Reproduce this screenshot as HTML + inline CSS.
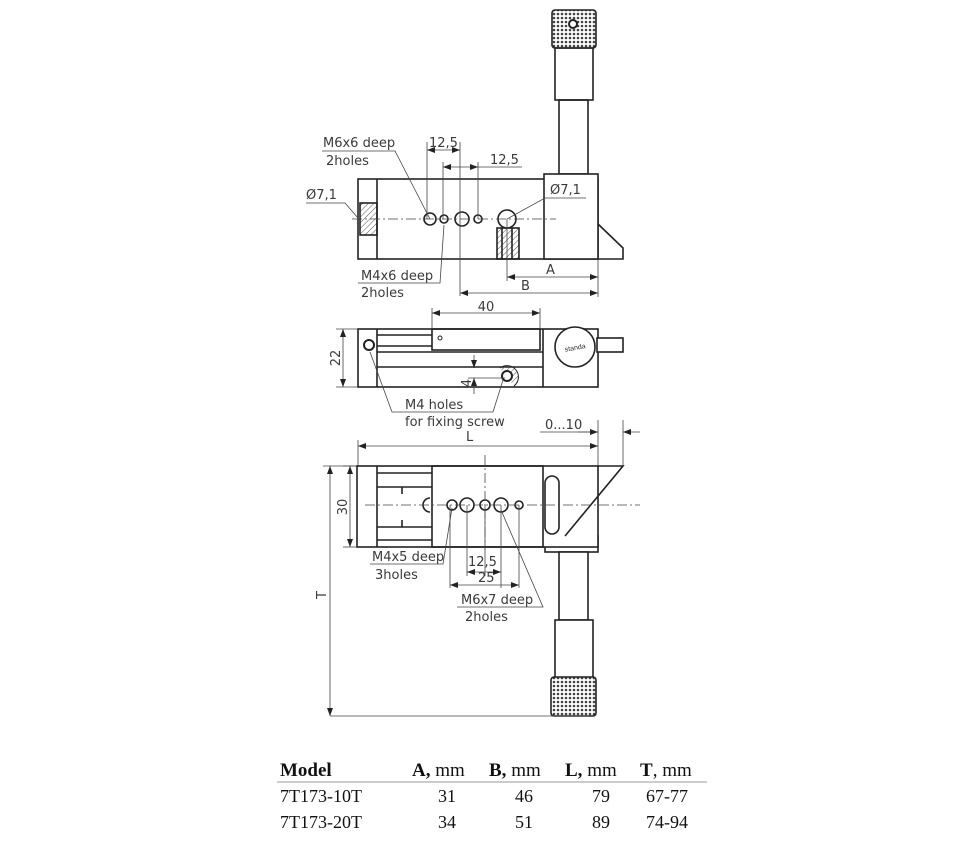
<!DOCTYPE html>
<html><head><meta charset="utf-8"><style>
html,body{margin:0;padding:0;background:#fff;}
svg{display:block;}
.t{font-family:"DejaVu Sans","Liberation Sans",sans-serif;font-size:13px;fill:#3a3a3a;}
.tb{font-family:"Liberation Serif",serif;font-size:19px;fill:#111;}
</style></head><body>
<svg width="960" height="841" viewBox="0 0 960 841" xmlns="http://www.w3.org/2000/svg">
<defs>
<pattern id="kn" width="4" height="4" patternUnits="userSpaceOnUse"><rect width="4" height="4" fill="#fff"/><circle cx="2" cy="2" r="1.3" fill="#444"/></pattern>
<pattern id="ht" width="4" height="4" patternUnits="userSpaceOnUse" patternTransform="rotate(45)"><line x1="0" y1="0" x2="0" y2="4" stroke="#555" stroke-width="1"/></pattern>
<marker id="ar" markerWidth="8" markerHeight="6" refX="8" refY="3" orient="auto-start-reverse" markerUnits="userSpaceOnUse"><path d="M0,0 L8,3 L0,6z" fill="#222"/></marker>
</defs>
<g fill="none" stroke="#222" stroke-width="1.6">
<rect x="552" y="10" width="44" height="38" rx="3" fill="url(#kn)"/>
<circle cx="573" cy="24" r="4" fill="#fff" stroke-width="2"/>
<rect x="555" y="48" width="38" height="52"/>
<rect x="559" y="100" width="29" height="74"/>
<rect x="358" y="179" width="240" height="80" fill="#fff"/>
<line x1="377" y1="179" x2="377" y2="259"/>
<rect x="544" y="174" width="54" height="85" fill="#fff"/>
<path d="M598,224 L623,248 L623,259 L598,259"/>
<rect x="497" y="228" width="22" height="31" fill="url(#ht)"/>
<line x1="502" y1="228" x2="502" y2="259"/><line x1="512" y1="228" x2="512" y2="259"/>
<rect x="360" y="203" width="17" height="32" fill="url(#ht)"/>
<circle cx="430" cy="219" r="6" fill="#fff"/>
<circle cx="444" cy="219" r="4" fill="#fff"/>
<circle cx="462" cy="219" r="7" fill="#fff"/>
<circle cx="478" cy="219" r="4" fill="#fff"/>
<circle cx="507" cy="219" r="9" fill="#fff"/>
</g>
<g fill="none" stroke="#444" stroke-width="0.8">
<line x1="352" y1="219" x2="556" y2="219" stroke-dasharray="10,3,2,3"/>
<line x1="427" y1="142" x2="427" y2="219"/><line x1="460" y1="142" x2="460" y2="296"/>
<line x1="443" y1="162" x2="443" y2="219"/><line x1="478" y1="162" x2="478" y2="219"/>
<line x1="427" y1="150" x2="460" y2="150" marker-start="url(#ar)" marker-end="url(#ar)"/>
<line x1="443" y1="167" x2="478" y2="167" marker-start="url(#ar)" marker-end="url(#ar)"/>
<line x1="478" y1="167" x2="522" y2="167"/>
<line x1="507" y1="219" x2="507" y2="281"/><line x1="598" y1="259" x2="598" y2="297"/>
<line x1="507" y1="277" x2="598" y2="277" marker-start="url(#ar)" marker-end="url(#ar)"/>
<line x1="460" y1="293" x2="598" y2="293" marker-start="url(#ar)" marker-end="url(#ar)"/>
<polyline points="322,151 395,151 430,219"/>
<polyline points="358,283 440,283 444,225"/>
<polyline points="306,203 345,203 358,218"/>
<polyline points="586,198 545,198 507,219"/>
</g>
<g class="t">
<text x="323" y="147">M6x6 deep</text><text x="326" y="165">2holes</text>
<text x="429" y="147">12,5</text><text x="490" y="164">12,5</text>
<text x="306" y="199">Ø7,1</text><text x="550" y="194">Ø7,1</text>
<text x="361" y="280">M4x6 deep</text><text x="361" y="297">2holes</text>
<text x="546" y="274">A</text><text x="521" y="290">B</text>
</g>
<g fill="none" stroke="#222" stroke-width="1.6">
<rect x="358" y="329" width="240" height="58" fill="#fff"/>
<line x1="377" y1="329" x2="377" y2="387"/>
<line x1="543" y1="329" x2="543" y2="387"/>
<rect x="432" y="329" width="108" height="21"/>
<line x1="377" y1="335" x2="432" y2="335"/><line x1="377" y1="346" x2="432" y2="346"/>
<line x1="377" y1="352" x2="543" y2="352"/><line x1="377" y1="367" x2="543" y2="367"/>
<rect x="597" y="338" width="26" height="14" fill="#fff"/>
<circle cx="575" cy="347" r="20" fill="#fff"/>
<circle cx="369" cy="345" r="5" fill="#fff" stroke-width="2"/>
<path d="M500,368 a10,10 0 0 1 14,18" fill="url(#ht)" stroke-width="1"/>
<circle cx="507" cy="376" r="5" fill="#fff" stroke-width="2"/>
</g>
<circle cx="440" cy="338" r="2" fill="none" stroke="#222"/>
<text x="575" y="350" font-family="Liberation Sans,sans-serif" font-size="7" text-anchor="middle" fill="#333" transform="rotate(-10 575 347)">standa</text>
<g fill="none" stroke="#444" stroke-width="0.8">
<line x1="432" y1="308" x2="432" y2="329"/><line x1="540" y1="308" x2="540" y2="329"/>
<line x1="432" y1="313" x2="540" y2="313" marker-start="url(#ar)" marker-end="url(#ar)"/>
<line x1="336" y1="329" x2="358" y2="329"/><line x1="336" y1="387" x2="358" y2="387"/>
<line x1="343" y1="329" x2="343" y2="387" marker-start="url(#ar)" marker-end="url(#ar)"/>
<line x1="474" y1="355" x2="474" y2="368" marker-end="url(#ar)"/>
<line x1="474" y1="394" x2="474" y2="378" marker-end="url(#ar)"/>
<line x1="468" y1="378" x2="505" y2="378"/>
<polyline points="370,352 392,412 493,412 503,380"/>
<line x1="598" y1="420" x2="598" y2="466"/><line x1="623" y1="420" x2="623" y2="466"/>
<line x1="358" y1="440" x2="358" y2="466"/>
<line x1="540" y1="432" x2="598" y2="432"/>
<line x1="578" y1="432" x2="598" y2="432" marker-end="url(#ar)"/>
<line x1="640" y1="432" x2="623" y2="432" marker-end="url(#ar)"/>
<line x1="358" y1="446" x2="598" y2="446" marker-start="url(#ar)" marker-end="url(#ar)"/>
</g>
<g class="t">
<text x="486" y="311" text-anchor="middle">40</text>
<text transform="translate(340,358) rotate(-90)" text-anchor="middle">22</text>
<text transform="translate(471,383) rotate(-90)" text-anchor="middle">4</text>
<text x="405" y="409">M4 holes</text><text x="405" y="426">for fixing screw</text>
<text x="545" y="429">0...10</text><text x="466" y="441">L</text>
</g>
<g fill="none" stroke="#222" stroke-width="1.6">
<rect x="545" y="536" width="53" height="16" fill="#fff"/>
<rect x="559" y="552" width="29" height="68" fill="#fff"/>
<rect x="555" y="620" width="38" height="58" fill="#fff"/>
<rect x="551" y="677" width="45" height="39" rx="3" fill="url(#kn)"/>
<rect x="357" y="466" width="241" height="81" fill="#fff"/>
<line x1="377" y1="466" x2="377" y2="547"/>
<rect x="432" y="466" width="111" height="81"/>
<line x1="377" y1="473" x2="432" y2="473"/><line x1="377" y1="487" x2="432" y2="487"/>
<line x1="377" y1="527" x2="432" y2="527"/><line x1="377" y1="540" x2="432" y2="540"/>
<line x1="402" y1="487" x2="402" y2="494"/><line x1="402" y1="520" x2="402" y2="527"/>
<path d="M598,466 L623,466 L565,536"/>
<rect x="545" y="476" width="14" height="58" rx="7"/>
<path d="M430,498 a7,7 0 0 0 0,14"/>
<circle cx="452" cy="505" r="5" fill="#fff"/>
<circle cx="467" cy="505" r="7" fill="#fff"/>
<circle cx="485" cy="505" r="5" fill="#fff"/>
<circle cx="501" cy="505" r="7" fill="#fff"/>
<circle cx="519" cy="505" r="4" fill="#fff"/>
</g>
<g fill="none" stroke="#444" stroke-width="0.8">
<line x1="365" y1="505" x2="640" y2="505" stroke-dasharray="10,3,2,3"/>
<line x1="485" y1="455" x2="485" y2="550" stroke-dasharray="10,3,2,3"/>
<line x1="343" y1="466" x2="357" y2="466"/><line x1="343" y1="547" x2="357" y2="547"/>
<line x1="350" y1="466" x2="350" y2="547" marker-start="url(#ar)" marker-end="url(#ar)"/>
<line x1="323" y1="466" x2="357" y2="466"/>
<line x1="330" y1="466" x2="330" y2="716" marker-start="url(#ar)" marker-end="url(#ar)"/>
<line x1="330" y1="716" x2="590" y2="716"/>
<line x1="467" y1="505" x2="467" y2="576"/><line x1="501" y1="505" x2="501" y2="588"/>
<line x1="485" y1="505" x2="485" y2="576"/><line x1="450" y1="505" x2="450" y2="588"/><line x1="519" y1="505" x2="519" y2="588"/>
<line x1="467" y1="572" x2="501" y2="572" marker-start="url(#ar)" marker-end="url(#ar)"/>
<line x1="450" y1="585" x2="519" y2="585" marker-start="url(#ar)" marker-end="url(#ar)"/>
<polyline points="370,564 443,564 452,508"/>
<polyline points="457,607 543,607 501,510"/>
</g>
<g class="t">
<text transform="translate(347,507) rotate(-90)" text-anchor="middle">30</text>
<text transform="translate(326,595) rotate(-90)" text-anchor="middle">T</text>
<text x="372" y="561">M4x5 deep</text><text x="375" y="579">3holes</text>
<text x="468" y="566">12,5</text><text x="478" y="582">25</text>
<text x="461" y="604">M6x7 deep</text><text x="465" y="621">2holes</text>
</g>
<line x1="277" y1="782" x2="707" y2="782" stroke="#999" stroke-width="1"/>
<g class="tb" fill="#222">
<text x="280" y="776" font-weight="bold">Model</text>
<text x="412" y="776"><tspan font-weight="bold">A,</tspan> mm</text>
<text x="489" y="776"><tspan font-weight="bold">B,</tspan> mm</text>
<text x="565" y="776"><tspan font-weight="bold">L,</tspan> mm</text>
<text x="640" y="776"><tspan font-weight="bold">T</tspan>, mm</text>
<text x="280" y="802" font-size="18">7T173-10T</text>
<text x="438" y="802" font-size="18">31</text><text x="515" y="802" font-size="18">46</text>
<text x="592" y="802" font-size="18">79</text><text x="646" y="802" font-size="18">67-77</text>
<text x="280" y="828" font-size="18">7T173-20T</text>
<text x="438" y="828" font-size="18">34</text><text x="515" y="828" font-size="18">51</text>
<text x="592" y="828" font-size="18">89</text><text x="646" y="828" font-size="18">74-94</text>
</g>
</svg>
</body></html>
